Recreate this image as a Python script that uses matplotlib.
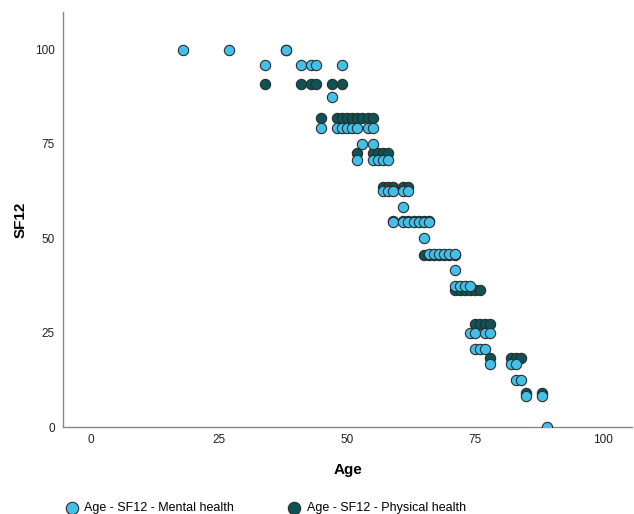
import numpy as np
import matplotlib
matplotlib.use("Agg")
import matplotlib.pyplot as plt

plt.rcParams['font.family'] = ['Liberation Sans', 'DejaVu Sans']

# SF12 mental health scores against age
mental_age = [18, 27, 38,
              34, 41, 43, 44, 49,
              47,
              45, 48, 49, 50, 51, 52, 54, 55,
              53, 55,
              52, 55, 56, 57, 58,
              57, 58, 59, 61, 62,
              61,
              59, 61, 62, 63, 64, 65, 66,
              65,
              66, 67, 68, 69, 70, 71,
              71,
              71, 72, 73, 74,
              74, 75, 77, 78,
              75, 76, 77,
              78, 82, 83,
              83, 84,
              85, 88,
              89]
mental_sf12 = [100, 100, 100,
               95.8, 95.8, 95.8, 95.8, 95.8,
               87.5,
               79.2, 79.2, 79.2, 79.2, 79.2, 79.2, 79.2, 79.2,
               75, 75,
               70.8, 70.8, 70.8, 70.8, 70.8,
               62.5, 62.5, 62.5, 62.5, 62.5,
               58.3,
               54.2, 54.2, 54.2, 54.2, 54.2, 54.2, 54.2,
               50,
               45.8, 45.8, 45.8, 45.8, 45.8, 45.8,
               41.7,
               37.5, 37.5, 37.5, 37.5,
               25, 25, 25, 25,
               20.8, 20.8, 20.8,
               16.7, 16.7, 16.7,
               12.5, 12.5,
               8.3, 8.3,
               0]

# SF12 physical health scores against age
phys_age = [38,
            34, 41, 43, 44, 47, 49,
            45, 48, 49, 50, 51, 52, 53, 54, 55,
            52, 55, 56, 57, 58,
            57, 58, 59, 61, 62,
            59, 61, 62, 63, 64, 65, 66,
            65, 66, 67, 68, 69, 70, 71,
            71, 72, 73, 74, 75, 76,
            75, 76, 77, 78,
            78, 82, 83, 84,
            85, 88]
phys_sf12 = [100,
             90.9, 90.9, 90.9, 90.9, 90.9, 90.9,
             81.8, 81.8, 81.8, 81.8, 81.8, 81.8, 81.8, 81.8, 81.8,
             72.7, 72.7, 72.7, 72.7, 72.7,
             63.6, 63.6, 63.6, 63.6, 63.6,
             54.5, 54.5, 54.5, 54.5, 54.5, 54.5, 54.5,
             45.5, 45.5, 45.5, 45.5, 45.5, 45.5, 45.5,
             36.4, 36.4, 36.4, 36.4, 36.4, 36.4,
             27.3, 27.3, 27.3, 27.3,
             18.2, 18.2, 18.2, 18.2,
             9.1, 9.1]

xticks = [0, 25, 50, 75, 100]
yticks = [0, 25, 50, 75, 100]

fig = plt.figure(figsize=(6.34, 5.14), dpi=100)
ax = fig.add_axes([0.0994, 0.169, 0.8976, 0.808])

light = '#42C0EA'
dark = '#0E5457'
edge = '#2B2B2B'

h_phys = ax.scatter(phys_age, phys_sf12, s=55, c=dark, edgecolors=edge,
                    linewidths=0.8, zorder=2)
h_ment = ax.scatter(mental_age, mental_sf12, s=55, c=light, edgecolors=edge,
                    linewidths=0.8, zorder=3)

ax.set_xlim(-5.5, 105.7)
ax.set_ylim(0, 110)
ax.set_xticks(xticks)
ax.set_yticks(yticks)
ax.tick_params(length=0, labelsize=8.5, colors='#222222')
ax.tick_params(axis='x', pad=5)
ax.tick_params(axis='y', pad=6)

for s in ['top', 'right']:
    ax.spines[s].set_visible(False)
for s in ['left', 'bottom']:
    ax.spines[s].set_color('#888888')
    ax.spines[s].set_linewidth(1.0)

ax.set_xlabel('Age', fontsize=11, fontweight='bold', labelpad=12)
ax.set_ylabel('SF12', fontsize=11, fontweight='bold', labelpad=5)

fig.legend([h_ment, h_phys],
           ['Age - SF12 - Mental health', 'Age - SF12 - Physical health'],
           loc='lower left', bbox_to_anchor=(0.076, -0.022), ncol=2,
           frameon=False, fontsize=9, handletextpad=0.0, columnspacing=3.8,
           markerscale=1.2)

fig.savefig('out.png', dpi=100)
